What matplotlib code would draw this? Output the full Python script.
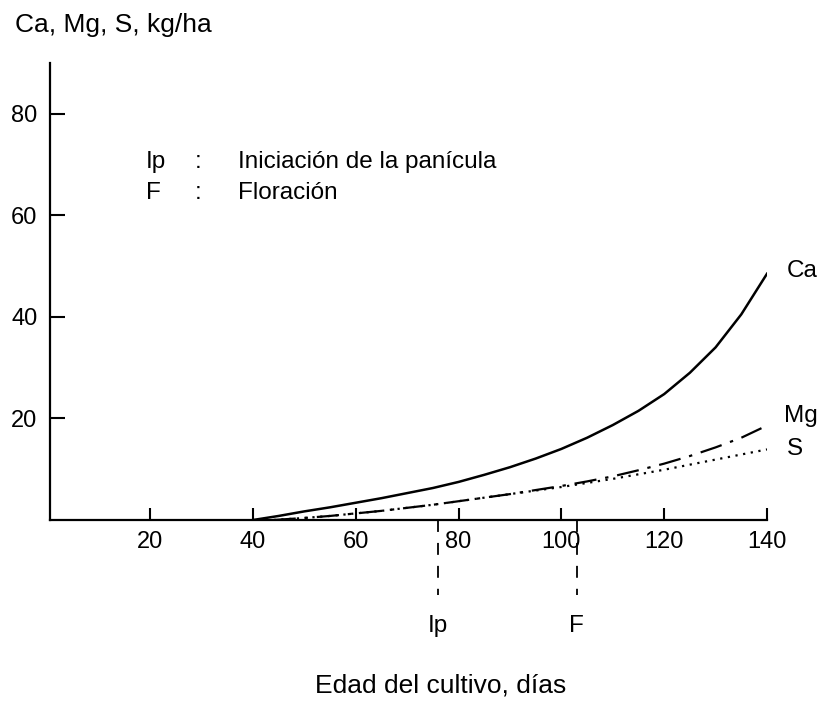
import matplotlib

matplotlib.use('Agg')

import matplotlib.pyplot as plt

plt.rcParams['font.family'] = ['Liberation Sans', 'DejaVu Sans']

# crop age in days, read every 5 days off the curves
days_ca = [40, 45, 50, 55, 60, 65, 70, 75, 80, 85, 90, 95, 100, 105, 110, 115, 120, 125, 130, 135, 140]
ca = [0.0, 0.8, 1.7, 2.5, 3.4, 4.3, 5.3, 6.3, 7.5, 8.9, 10.4, 12.1, 14.0, 16.2, 18.7, 21.5, 24.8, 29.0, 34.0, 40.5, 48.5]

days_mg = [44, 50, 55, 60, 65, 70, 75, 80, 85, 90, 95, 100, 105, 110, 115, 120, 125, 130, 135, 140]
mg = [0.0, 0.4, 0.8, 1.3, 1.8, 2.4, 3.0, 3.7, 4.4, 5.1, 5.9, 6.7, 7.6, 8.6, 9.8, 11.1, 12.6, 14.3, 16.2, 18.6]

days_s = [44, 50, 55, 60, 65, 70, 75, 80, 85, 90, 95, 100, 105, 110, 115, 120, 125, 130, 135, 140]
s = [0.0, 0.4, 0.8, 1.3, 1.8, 2.4, 3.0, 3.7, 4.4, 5.1, 5.8, 6.5, 7.3, 8.1, 9.0, 9.9, 10.9, 11.9, 12.9, 13.9]

stages = ['Ip', 'F']
stage_days = [76, 103]
legend_keys = ['Ip', 'F']
legend_text = ['Iniciación de la panícula', 'Floración']

FS = 17.5
TS = 17
LS = 19

fig = plt.figure(figsize=(8.26, 7.02), dpi=100)
ax = fig.add_axes([50 / 826, 182 / 702, 717 / 826, 457 / 702])

ax.plot(days_ca, ca, c='k', lw=1.8)
ax.plot(days_mg, mg, c='k', lw=1.6, linestyle=(0, (10, 4, 1.5, 4)))
ax.plot(days_s, s, c='k', lw=1.6, linestyle=(0, (1, 2.5)))

ax.text(143.8, 49, 'Ca', fontsize=FS, va='center')
ax.text(143.4, 20.4, 'Mg', fontsize=FS, va='center')
ax.text(143.8, 14.0, 'S', fontsize=FS, va='center')

ax.set_xlim(0.5, 140)
ax.set_ylim(0, 90)
ax.set_xticks([20, 40, 60, 80, 100, 120, 140])
ax.set_yticks([20, 40, 60, 80])
ax.spines['top'].set_visible(False)
ax.spines['right'].set_visible(False)
for sp in ax.spines.values():
    sp.set_linewidth(1.6)
ax.tick_params(axis='x', direction='in', length=9, width=1.5, labelsize=TS, pad=8)
ax.tick_params(axis='y', direction='in', length=11, width=1.5, labelsize=TS, pad=9)

# growth stage markers below the axis
trans = ax.get_xaxis_transform()
for name, d in zip(stages, stage_days):
    ax.plot([d, d], [0.0, -0.164], transform=trans, c='k', lw=1.3,
            linestyle=(0, (6.6, 6.1)), clip_on=False)
    ax.text(d, -0.232, name, transform=trans, fontsize=FS, ha='center', va='center')

# key
for i, (k, t) in enumerate(zip(legend_keys, legend_text)):
    y = 162 + 31 * i
    fig.text(146 / 826, 1 - y / 702, k, fontsize=FS, va='center')
    fig.text(195 / 826, 1 - y / 702, ':', fontsize=FS, va='center')
    fig.text(238 / 826, 1 - y / 702, t, fontsize=FS, va='center')

fig.text(15 / 826, 1 - 25 / 702, 'Ca, Mg, S, kg/ha', fontsize=LS, va='center')
fig.text(441 / 826, 1 - 686 / 702, 'Edad del cultivo, días', fontsize=LS,
         ha='center', va='center')

plt.savefig('out.png')
plt.close(fig)
